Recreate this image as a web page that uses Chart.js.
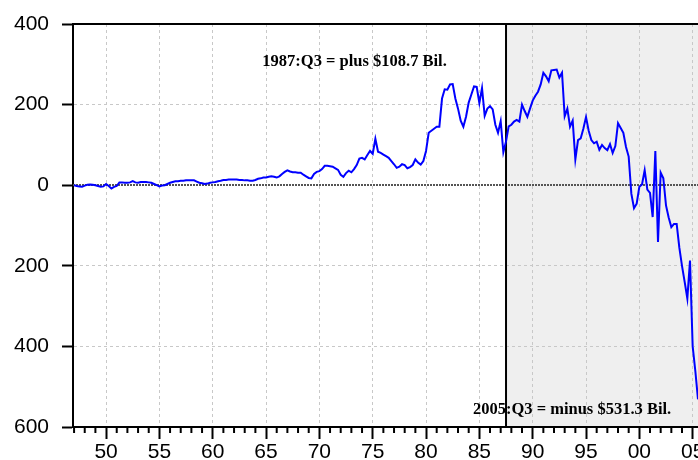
<!DOCTYPE html>
<html>
<head>
<meta charset="utf-8">
<script src="https://cdn.jsdelivr.net/npm/chart.js@4.4.1/dist/chart.umd.min.js"></script>
<style>
    html, body { margin: 0; padding: 0; background: #ffffff; }
    canvas { display: block; }
</style>
</head>
<body>
<canvas id="grafica" width="698" height="460"></canvas>
<script>
// quarterly balance, billions of dollars, 1947:Q1 .. 2005:Q3
var primerAnio = 1947;
var saldo = [
    0, -2, -3, -4,        // 1947
    -1, 1, 2, 1,          // 1948
    0, -2, -4, -3,        // 1949
    3, -2, -8, -4,        // 1950
    -2, 7, 7, 6,          // 1951
    6, 7, 10, 7,          // 1952
    6, 8, 8, 8,           // 1953
    7, 6, 3, 0,           // 1954
    -3, -1, 0, 3,         // 1955
    6, 8, 10, 10,         // 1956
    11, 11, 12, 12,       // 1957
    12, 12, 9, 6,         // 1958
    5, 3, 4, 6,           // 1959
    7, 8, 10, 11,         // 1960
    13, 13, 14, 14,       // 1961
    14, 14, 13, 13,       // 1962
    12, 12, 11, 11,       // 1963
    13, 16, 17, 19,       // 1964
    19, 21, 22, 21,       // 1965
    19, 22, 28, 33,       // 1966
    37, 34, 32, 32,       // 1967
    31, 31, 26, 22,       // 1968
    18, 17, 28, 33,       // 1969
    35, 40, 48, 48,       // 1970
    47, 46, 42, 38,       // 1971
    26, 21, 30, 36,       // 1972
    32, 40, 50, 66,       // 1973
    68, 64, 75, 85,       // 1974
    78, 115, 83, 80,      // 1975
    76, 72, 68, 60,       // 1976
    52, 43, 46, 52,       // 1977
    50, 42, 45, 50,       // 1978
    64, 56, 51, 60,       // 1979
    85, 130, 135, 140,    // 1980
    145, 145, 215, 238,   // 1981
    237, 250, 251, 215,   // 1982
    190, 160, 145, 170,   // 1983
    205, 225, 245, 244,   // 1984
    204, 241, 172, 190,   // 1985
    196, 188, 150, 130,   // 1986
    159, 82, 108.7, 146,  // 1987
    150, 158, 162, 158,   // 1988
    200, 184, 170, 190,   // 1989
    210, 222, 232, 250,   // 1990
    279, 270, 258, 285,   // 1991
    286, 287, 267, 279,   // 1992
    171, 190, 145, 160,   // 1993
    64, 112, 116, 140,    // 1994
    169, 135, 112, 104,   // 1995
    108, 88, 100, 92,     // 1996
    87, 102, 80, 97,      // 1997
    154, 142, 130, 95,    // 1998
    71, -21, -57, -46,    // 1999
    -4, 2, 37, -11,       // 2000
    -19, -79, 85, -141,   // 2001
    31, 17, -50, -80,     // 2002
    -104, -96, -96, -155, // 2003
    -200, -240, -281, -187, // 2004
    -400, -461, -531.3    // 2005
];
var ticksY = [400, 200, 0, -200, -400, -600];
var ticksAnios = [1950, 1955, 1960, 1965, 1970, 1975, 1980, 1985, 1990, 1995, 2000, 2005];
var inicioSombra = 1987.5;
var notaArriba = "1987:Q3 = plus $108.7 Bil.";
var notaAbajo = "2005:Q3 = minus $531.3 Bil.";

var puntos = saldo.map(function (v, i) {
    return { x: primerAnio + i / 4, y: v };
});

var decoracion = {
    id: "decoracion",
    beforeDraw: function (chart) {
        var ctx = chart.ctx;
        var a = chart.chartArea;
        var x0 = chart.scales.x.getPixelForValue(inicioSombra);
        ctx.save();
        ctx.fillStyle = "#efefef";
        ctx.fillRect(x0, a.top, a.right - x0, a.bottom - a.top);
        ctx.restore();
    },
    beforeDatasetsDraw: function (chart) {
        var ctx = chart.ctx;
        var a = chart.chartArea;
        var y0 = Math.round(chart.scales.y.getPixelForValue(0));
        var x0 = chart.scales.x.getPixelForValue(inicioSombra);
        ctx.save();
        ctx.strokeStyle = "#555555";
        ctx.lineWidth = 2;
        ctx.setLineDash([2, 1]);
        ctx.beginPath();
        ctx.moveTo(a.left, y0);
        ctx.lineTo(a.right, y0);
        ctx.stroke();
        ctx.setLineDash([]);
        ctx.strokeStyle = "#000000";
        ctx.lineWidth = 2;
        ctx.beginPath();
        ctx.moveTo(x0, a.top);
        ctx.lineTo(x0, a.bottom);
        ctx.stroke();
        ctx.restore();
    },
    afterDraw: function (chart) {
        var ctx = chart.ctx;
        var a = chart.chartArea;
        var sx = chart.scales.x;
        var sy = chart.scales.y;
        ctx.save();
        // top frame
        ctx.strokeStyle = "#000000";
        ctx.lineWidth = 2;
        ctx.beginPath();
        ctx.moveTo(a.left - 1, a.top);
        ctx.lineTo(a.right, a.top);
        ctx.stroke();
        // yearly minor ticks
        for (var anio = primerAnio; anio <= 2005; anio++) {
            if (anio % 5 === 0) continue;
            var px = sx.getPixelForValue(anio);
            ctx.beginPath();
            ctx.moveTo(px, a.bottom);
            ctx.lineTo(px, a.bottom + 6);
            ctx.stroke();
        }
        // notes
        ctx.fillStyle = "#000000";
        ctx.font = "bold 16.5px 'Liberation Serif', 'Times New Roman', serif";
        ctx.textBaseline = "alphabetic";
        ctx.textAlign = "center";
        ctx.fillText(notaArriba, sx.getPixelForValue(1973.3), sy.getPixelForValue(295));
        ctx.textAlign = "left";
        ctx.fillText(notaAbajo, sx.getPixelForValue(1984.4), sy.getPixelForValue(-567));
        ctx.restore();
    }
};

var ctx = document.getElementById("grafica").getContext("2d");
var chart = new Chart(ctx, {
    type: "line",
    plugins: [decoracion],
    data: {
        datasets: [
            {
                label: "Saldo",
                data: puntos,
                borderColor: "#0000ff",
                borderWidth: 2,
                pointRadius: 0,
                tension: 0,
                fill: false
            }
        ]
    },
    options: {
        responsive: false,
        animation: false,
        devicePixelRatio: 1,
        layout: { padding: { top: 24, right: 0, left: 0, bottom: 0 } },
        plugins: {
            legend: { display: false },
            tooltip: { enabled: false }
        },
        scales: {
            x: {
                type: "linear",
                min: 1946.9,
                max: 2005.5,
                afterBuildTicks: function (scale) {
                    scale.ticks = ticksAnios.map(function (v) { return { value: v }; });
                },
                afterFit: function (scale) {
                    scale.height = 33;
                    scale.paddingLeft = 0;
                    scale.paddingRight = 0;
                },
                border: { color: "#000000", width: 2, dash: [3, 3] },
                grid: {
                    color: "#c8c8c8",
                    lineWidth: 1,
                    tickLength: 12,
                    tickColor: "#000000",
                    tickWidth: 2,
                    tickBorderDash: []
                },
                ticks: {
                    autoSkip: false,
                    maxRotation: 0,
                    padding: 1,
                    color: "#000000",
                    font: { family: "'Liberation Sans', Arial, sans-serif", size: 21 },
                    callback: function (v) {
                        return String(v % 100).padStart(2, "0");
                    }
                }
            },
            y: {
                min: -600,
                max: 400,
                afterBuildTicks: function (scale) {
                    scale.ticks = ticksY.map(function (v) { return { value: v }; });
                },
                afterFit: function (scale) {
                    scale.width = 73;
                    scale.paddingTop = 0;
                    scale.paddingBottom = 0;
                },
                border: { color: "#000000", width: 2, dash: [3, 3] },
                grid: {
                    color: function (c) {
                        return c.tick && c.tick.value === 0 ? "rgba(0,0,0,0)" : "#c8c8c8";
                    },
                    lineWidth: 1,
                    tickLength: 11,
                    tickColor: "#000000",
                    tickWidth: 2,
                    tickBorderDash: []
                },
                ticks: {
                    padding: 13,
                    color: "#000000",
                    font: { family: "'Liberation Sans', Arial, sans-serif", size: 21 },
                    callback: function (v) {
                        return String(Math.abs(v));
                    }
                }
            }
        }
    }
});
</script>
</body>
</html>
